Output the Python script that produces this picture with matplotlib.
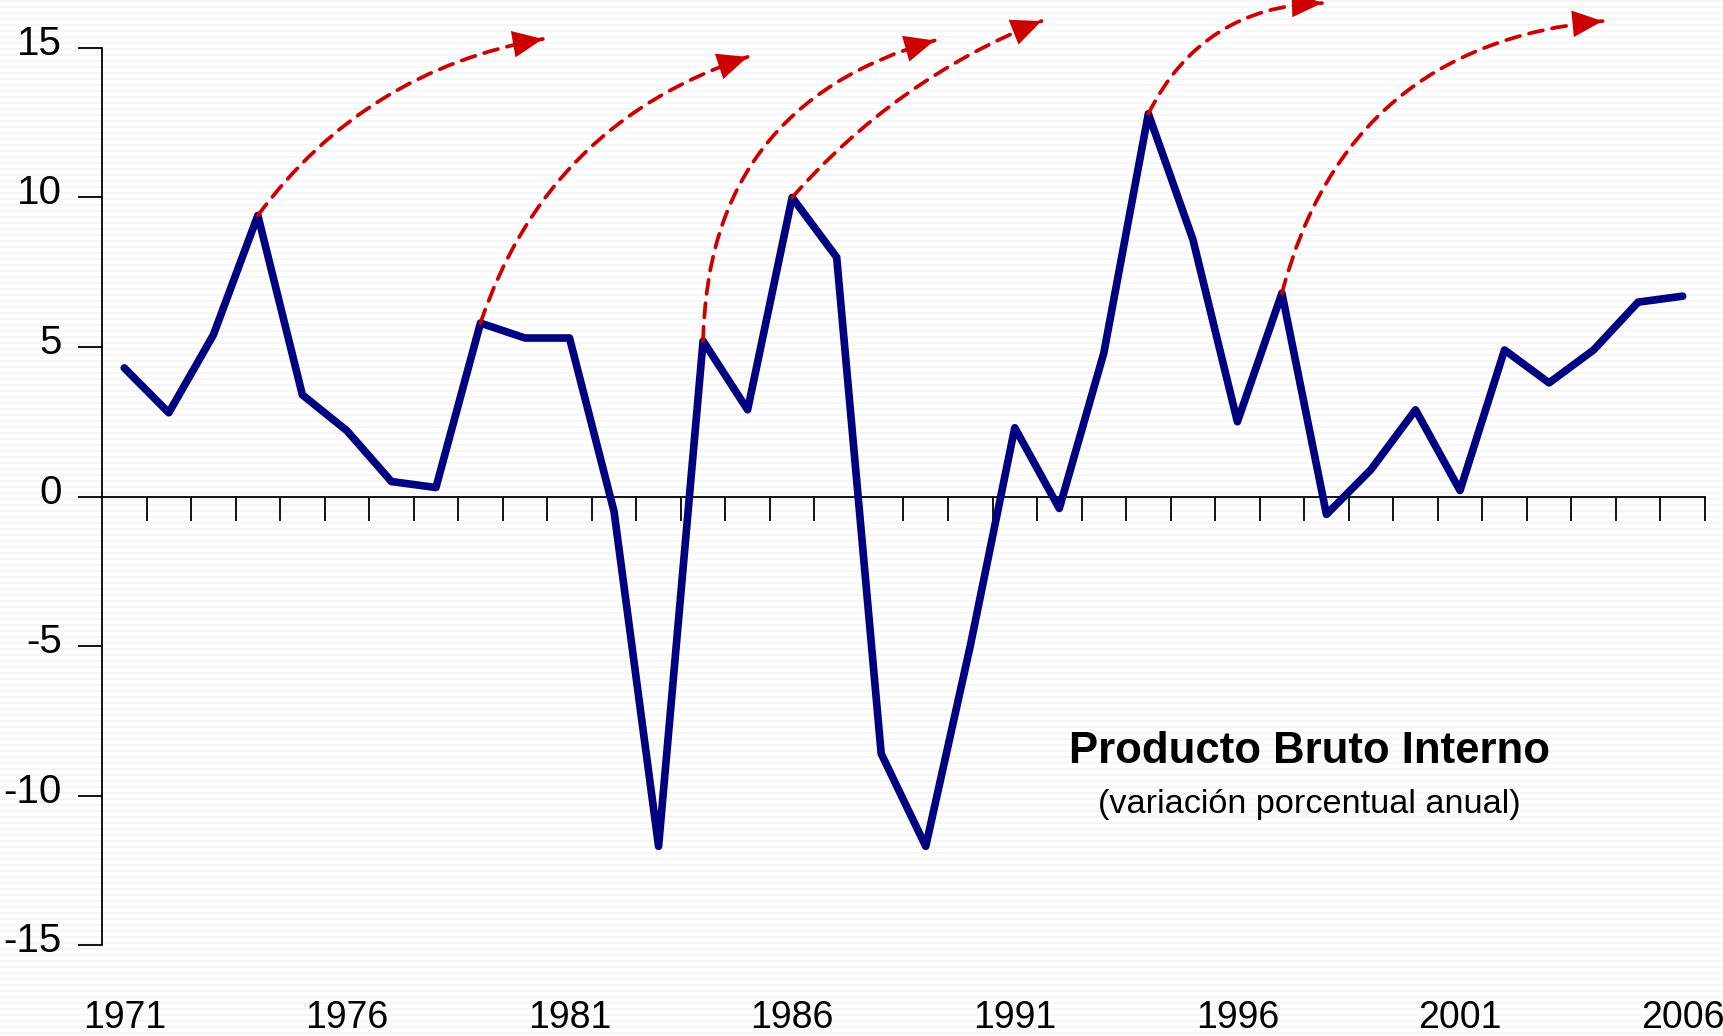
import numpy as np
import matplotlib
matplotlib.use('Agg')
import matplotlib.pyplot as plt
from matplotlib.transforms import ScaledTranslation, blended_transform_factory

plt.rcParams['font.family'] = ['Liberation Sans', 'DejaVu Sans']

# Datos: variación porcentual anual del PBI
years = list(range(1971, 2007))
pbi = [4.3, 2.8, 5.4, 9.4, 3.4, 2.2, 0.5, 0.3, 5.8, 5.3,
       5.3, -0.5, -11.7, 5.2, 2.9, 10.0, 8.0, -8.6, -11.7, -5.0,
       2.3, -0.4, 4.8, 12.8, 8.6, 2.5, 6.8, -0.6, 0.9, 2.9,
       0.2, 4.9, 3.8, 4.9, 6.5, 6.7]
year_labels = [1971, 1976, 1981, 1986, 1991, 1996, 2001, 2006]
y_ticks = [15, 10, 5, 0, -5, -10, -15]

# Flechas: año de inicio, punto final y curvatura
arrow_start = [1974, 1979, 1984, 1986, 1994, 1997]
arrow_end_x = [1980.4, 1985.0, 1989.2, 1991.6, 1997.9, 2004.2]
arrow_end_y = [15.3, 14.7, 15.25, 15.9, 16.5, 15.9]
arrow_rad = [-0.2, -0.25, -0.37, -0.12, -0.3, -0.35]

fig = plt.figure(figsize=(17.23, 10.36), dpi=100)

# fondo rayado
bg = fig.add_axes([0, 0, 1, 1], zorder=-10)
rows = 1036
stripe = np.ones((rows, 1))
stripe[(np.arange(rows) % 6) < 2] = 0.962
bg.imshow(stripe, cmap='gray', vmin=0, vmax=1, aspect='auto', extent=[0, 1, 0, 1])
bg.axis('off')

ax = fig.add_axes([0.0592, 0.0878, 0.9303, 0.8659])
ax.patch.set_alpha(0)
ax.plot(years, pbi, color='#000080', linewidth=5.5, solid_joinstyle='round',
        solid_capstyle='round', zorder=3)

red = '#cc0000'
for s, ex, ey, r in zip(arrow_start, arrow_end_x, arrow_end_y, arrow_rad):
    sy = pbi[years.index(s)]
    cs = 'arc3,rad=%s' % r
    # cuerpo punteado
    ax.annotate('', xy=(ex, ey), xytext=(s, sy), annotation_clip=False,
                arrowprops=dict(arrowstyle='-', color=red, linewidth=2.7,
                                linestyle=(0, (3.8, 2.5)), connectionstyle=cs,
                                shrinkA=0, shrinkB=0),
                zorder=4)
    # punta sólida
    ax.annotate('', xy=(ex, ey), xytext=(s, sy), annotation_clip=False,
                arrowprops=dict(arrowstyle='-|>,head_length=0.9,head_width=0.4',
                                facecolor=red, edgecolor=red, linewidth=0.01,
                                connectionstyle=cs, shrinkA=0, shrinkB=0,
                                mutation_scale=24),
                zorder=4)

ax.set_xlim(1970.5, 2006.5)
ax.set_ylim(-15, 15)

ax.spines['top'].set_visible(False)
ax.spines['right'].set_visible(False)
ax.spines['bottom'].set_position(('data', 0))
ax.spines['left'].set_linewidth(1.3)
ax.spines['bottom'].set_linewidth(1.3)

ax.set_yticks(y_ticks)
ax.set_yticklabels([str(v) for v in y_ticks])
ax.tick_params(axis='y', direction='out', length=17, width=1.3, pad=12, labelsize=29)
off = ScaledTranslation(0, 8 / 100, fig.dpi_scale_trans)
for lab in ax.get_yticklabels():
    lab.set_transform(lab.get_transform() + off)

ax.set_xticks(np.arange(1971.5, 2007, 1.0))
ax.set_xticklabels([])
ax.tick_params(axis='x', direction='out', length=17, width=1.3)

trans = blended_transform_factory(ax.transData, fig.transFigure)
for y in year_labels:
    ax.text(y, 1 - 1028 / 1036, str(y), transform=trans, ha='center', va='baseline', fontsize=27)

fig.text(0.760, 1 - 763 / 1036, 'Producto Bruto Interno', ha='center', va='baseline',
         fontsize=31.5, fontweight='bold')
fig.text(0.760, 1 - 813 / 1036, '(variación porcentual anual)', ha='center', va='baseline',
         fontsize=24.7)

fig.savefig('out.png', dpi=100)
